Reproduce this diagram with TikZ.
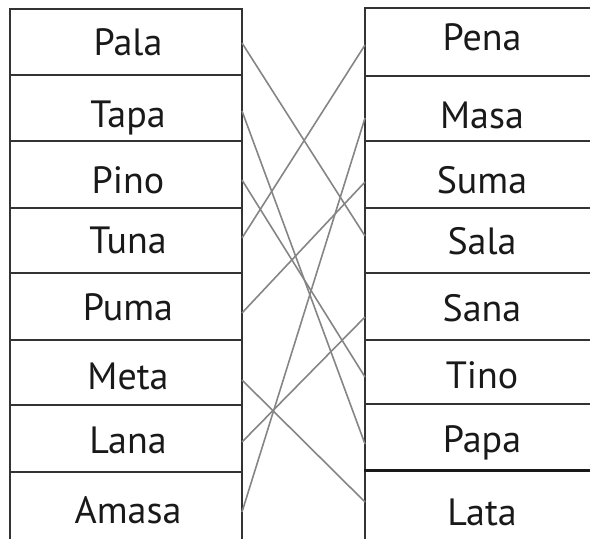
\documentclass[tikz,border=0pt]{standalone}
\usepackage{fontspec}
\setmainfont{PT Sans}
\begin{document}
\begin{tikzpicture}[x=1pt,y=-1pt,
  cell/.style={draw=black!80,line width=1.3pt,inner sep=0pt,minimum width=232pt},
  rcell/.style={draw=black!80,line width=1.3pt,inner sep=0pt,minimum width=260pt},
  word/.style={anchor=base,inner sep=0pt,text=black!90,font=\fontsize{38}{44}\selectfont},
  link/.style={draw=black!48,line width=1.6pt}]
\useasboundingbox (0,0) rectangle (590,539);
\begin{scope}
\clip (0,0) rectangle (590,539);
% left column cells
\foreach \n/\a/\b in {l1/9/75,l2/75/141,l3/141/208,l4/208/273,l5/273/340,l6/340/405,l7/405/472,l8/472/570}{
  \node[cell,minimum height={(\b-\a)*1pt}] (\n) at (126,{(\a+\b)/2}) {};
}
% right column cells
\foreach \n/\a/\b in {r1/8/76,r2/76/141,r3/141/208,r4/208/273,r5/273/340,r6/340/404,r7/404/471,r8/471/570}{
  \node[rcell,minimum height={(\b-\a)*1pt}] (\n) at (495,{(\a+\b)/2}) {};
}
\draw[line width=2.6pt,black!90] (r8.north west) -- (r8.north east);
\end{scope}
% words
\node[word] (tPala)  at (128,55)  {Pala};
\node[word] (tTapa)  at (128,127) {Tapa};
\node[word] (tPino)  at (128,193) {Pino};
\node[word] (tTuna)  at (128,253) {Tuna};
\node[word] (tPuma)  at (128,320) {Puma};
\node[word] (tMeta)  at (128,389) {Meta};
\node[word] (tLana)  at (128,453) {Lana};
\node[word] (tAmasa) at (128,523) {Amasa};
\node[word] (tPena)  at (482,50)  {Pena};
\node[word] (tMasa)  at (482,128) {Masa};
\node[word] (tSuma)  at (482,193) {Suma};
\node[word] (tSala)  at (482,254) {Sala};
\node[word] (tSana)  at (482,321) {Sana};
\node[word] (tTino)  at (482,388) {Tino};
\node[word] (tPapa)  at (482,452) {Papa};
\node[word] (tLata)  at (482,525) {Lata};
% connector ends
\coordinate (aPala)  at (242,43);
\coordinate (aTapa)  at (242,111);
\coordinate (aPino)  at (242,180);
\coordinate (aTuna)  at (242,238);
\coordinate (aPuma)  at (242,313);
\coordinate (aMeta)  at (242,380);
\coordinate (aLana)  at (242,442);
\coordinate (aAmasa) at (242,512);
\coordinate (bPena)  at (365,45);
\coordinate (bMasa)  at (365,118);
\coordinate (bSuma)  at (365,182);
\coordinate (bSala)  at (365,236);
\coordinate (bSana)  at (365,317);
\coordinate (bTino)  at (365,377);
\coordinate (bPapa)  at (365,444);
\coordinate (bLata)  at (365,502);
\draw[link] (aPala) -- (bSala);
\draw[link] (aTapa) -- (bPapa);
\draw[link] (aPino) -- (bTino);
\draw[link] (aTuna) -- (bPena);
\draw[link] (aPuma) -- (bSuma);
\draw[link] (aMeta) -- (bLata);
\draw[link] (aLana) -- (bSana);
\draw[link] (aAmasa) -- (bMasa);
\end{tikzpicture}
\end{document}
